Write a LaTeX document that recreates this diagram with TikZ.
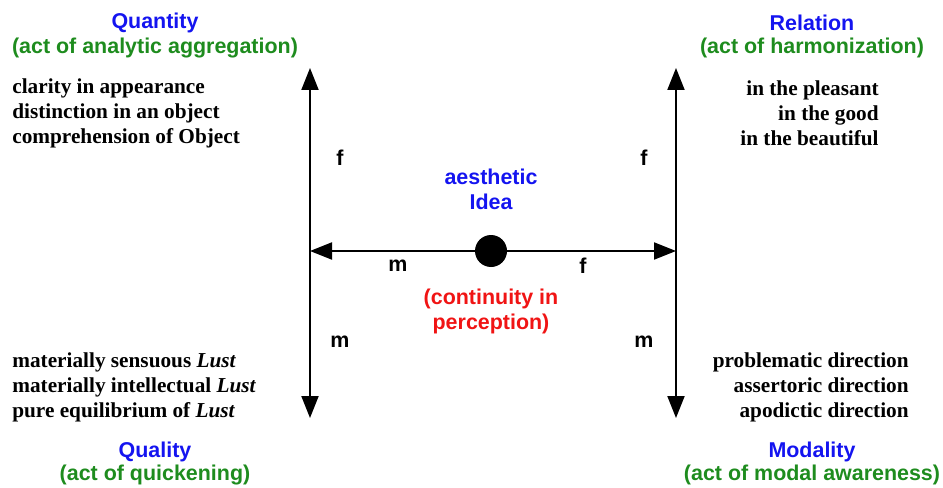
\documentclass[tikz,border=0pt]{standalone}
\usepackage{fontspec}
\setmainfont{Liberation Serif}
\setsansfont{Liberation Sans}
\usetikzlibrary{arrows.meta, positioning}
\definecolor{catblue}{RGB}{20, 20, 240}
\definecolor{actgreen}{RGB}{30, 140, 30}
\definecolor{contred}{RGB}{240, 20, 20}

\begin{document}
\begin{tikzpicture}[x=0.02cm, y=-0.02cm,
  cattitle/.style={font=\sffamily\bfseries\fontsize{12.2}{14.2}\selectfont, text=catblue, inner sep=0pt},
  acttitle/.style={font=\sffamily\bfseries\fontsize{12.2}{14.2}\selectfont, text=actgreen, inner sep=0pt},
  moment/.style={font=\rmfamily\bfseries\fontsize{12.1}{14.2}\selectfont, inner sep=0pt},
  fmlabel/.style={font=\sffamily\bfseries\fontsize{12.2}{14.2}\selectfont, inner sep=0pt},
  ideadot/.style={circle, fill=black, minimum size=0.64cm, inner sep=0pt},
  axis/.style={line width=1.1pt, {Triangle[length=0.44cm, width=0.34cm]}-{Triangle[length=0.44cm, width=0.34cm]}},
  halfaxis/.style={line width=1.1pt, -{Triangle[length=0.44cm, width=0.34cm]}}
]
\useasboundingbox (0,0) rectangle (943,487);

% Axes
\coordinate (qTop) at (310,68);
\coordinate (qBot) at (310,418);
\coordinate (rTop) at (676,68);
\coordinate (rBot) at (676,418);
\coordinate (hLeft) at (310,251);
\coordinate (hRight) at (676,251);

\draw[axis] (qBot) -- (qTop);
\draw[axis] (rBot) -- (rTop);

\node[ideadot] (idea) at (491,251) {};
\draw[halfaxis] (idea) -- (hLeft);
\draw[halfaxis] (idea) -- (hRight);

% Centre
\node[cattitle, align=center] (aesthetic) at (491,189) {aesthetic\\Idea};
\node[acttitle, text=contred, align=center] (continuity) at (491,311) {(continuity in\\perception)};

\node[fmlabel] (fQuant) at (340,158) {f};
\node[fmlabel] (fRel) at (644,158) {f};
\node[fmlabel] (mQual) at (340,342) {m};
\node[fmlabel] (mMod) at (644,342) {m};
\node[fmlabel] (mLeft) at (398,266) {m};
\node[fmlabel] (fRight) at (583,266) {f};

% Quantity
\node[cattitle] (quantity) at (155,23) {Quantity};
\node[acttitle] (quantityAct) at (155,48) {(act of analytic aggregation)};
\node[moment, align=left, anchor=west] (quantityMoments) at (12,113)
  {clarity in appearance\\distinction in an object\\comprehension of Object};

% Relation
\node[cattitle] (relation) at (812,23) {Relation};
\node[acttitle] (relationAct) at (812,48) {(act of harmonization)};
\node[moment, align=right, anchor=east] (relationMoments) at (879,113)
  {in the pleasant\\in the good\\in the beautiful};

% Quality
\node[moment, align=left, anchor=west] (qualityMoments) at (12,387)
  {materially sensuous \textit{Lust}\\materially intellectual \textit{Lust}\\pure equilibrium of \textit{Lust}};
\node[cattitle] (quality) at (155,452) {Quality};
\node[acttitle] (qualityAct) at (155,475) {(act of quickening)};

% Modality
\node[moment, align=right, anchor=east] (modalityMoments) at (909,387)
  {problematic direction\\assertoric direction\\apodictic direction};
\node[cattitle] (modality) at (812,452) {Modality};
\node[acttitle] (modalityAct) at (812,475) {(act of modal awareness)};

\end{tikzpicture}
\end{document}
